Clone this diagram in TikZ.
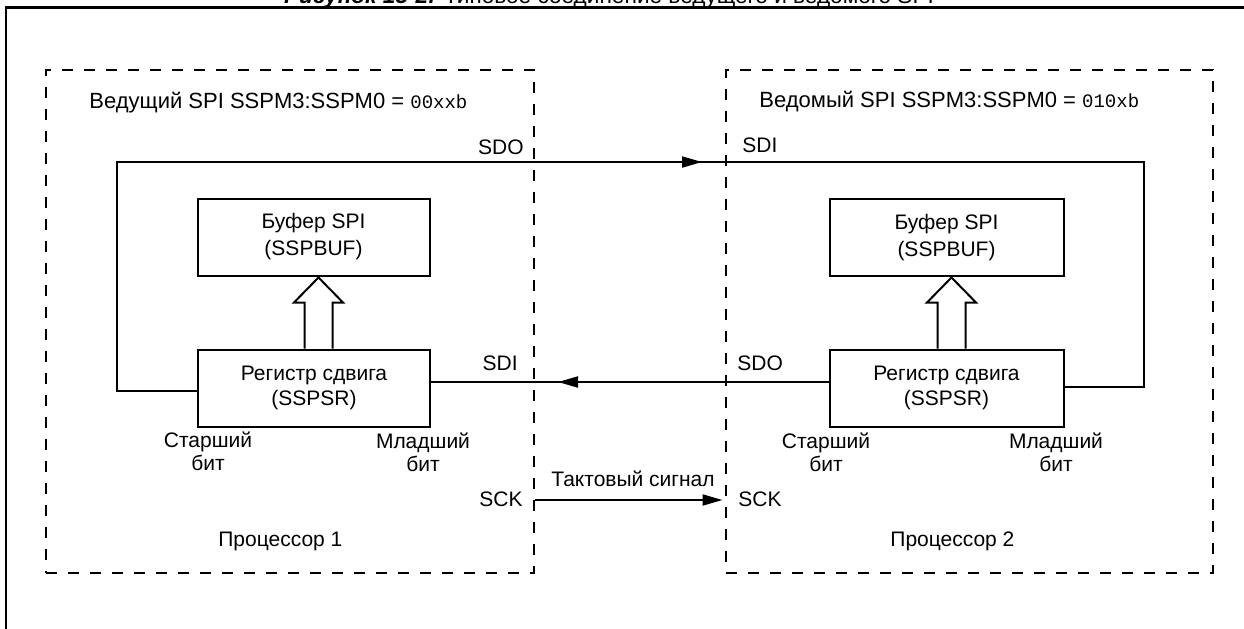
\documentclass[tikz,border=0pt]{standalone}
\usepackage{fontspec}
\setmainfont{Liberation Sans}
\setmonofont{Liberation Mono}
\usetikzlibrary{arrows.meta,calc}
\begin{document}
\begin{tikzpicture}[x=0.5pt,y=-0.5pt,
  txt/.style={font=\fontsize{10.5}{13.5}\selectfont, inner sep=0pt, align=center},
  bitlbl/.style={font=\fontsize{10.5}{11.5}\selectfont, inner sep=0pt, align=center},
  box/.style={draw, line width=1pt, minimum width=116pt, minimum height=38.5pt, inner sep=0pt, align=center},
  bufbox/.style={box, font=\fontsize{10.5}{13.5}\selectfont},
  srbox/.style={box, font=\fontsize{10.5}{12.5}\selectfont},
  procbox/.style={draw, line width=1pt, dash pattern=on 5.5pt off 5.5pt, minimum height=251.5pt, inner sep=0pt},
  wire/.style={line width=1pt},
  tip/.style={line width=1pt, -{Triangle[length=10pt,width=5.5pt]}},
  hollow/.style={line width=1pt, line join=miter},
  outer/.style={line width=1.25pt}]
\useasboundingbox (0,0) rectangle (1244,628);
% caption (cut off at the top)
\node[anchor=base, font=\fontsize{11.3}{13}\selectfont, inner sep=0pt] (cap) at (609,3.5)
  {\textbf{\textit{Рисунок 15-2:}} Типовое соединение ведущего и ведомого SPI};
% outer frame
\coordinate (fBL) at (6,640);
\coordinate (fTR) at (1260,7.5);
\draw[outer] (fBL) |- (fTR);
% processor areas
\node[procbox, minimum width=244pt] (lproc) at (290,321.5) {};
\node[procbox, minimum width=243.5pt] (rproc) at (969.5,321.5) {};
% boxes
\node[bufbox] (lbuf) at (313.5,237) {Буфер SPI\\(SSPBUF)};
\node[srbox] (lsr) at (314,388) {Регистр сдвига\\(SSPSR)};
\node[bufbox, minimum width=117pt] (rbuf) at (946.5,237.5) {Буфер SPI\\(SSPBUF)};
\node[srbox, minimum width=117pt] (rsr) at (946.5,388) {Регистр сдвига\\(SSPSR)};
% titles
\node[txt, anchor=west, font=\fontsize{11}{13}\selectfont] (ltitle) at (89,103) {Ведущий SPI SSPM3:SSPM0 = {\fontsize{9.5}{11}\selectfont\ttfamily 00xxb}};
\node[txt, anchor=west, font=\fontsize{11}{13}\selectfont] (rtitle) at (759,102) {Ведомый SPI SSPM3:SSPM0 = {\fontsize{9.5}{11}\selectfont\ttfamily 010xb}};
% pin labels
\node[txt, anchor=east] (lsdo) at (524,147) {SDO};
\node[txt, anchor=west] (rsdi) at (742,145) {SDI};
\node[txt, anchor=east] (lsdi) at (518,363) {SDI};
\node[txt, anchor=west] (rsdo) at (737,363) {SDO};
\node[txt, anchor=east] (lsck) at (523,499) {SCK};
\node[txt, anchor=west] (rsck) at (738,499) {SCK};
\node[txt] (clk) at (633,479) {Тактовый сигнал};
% bit labels
\node[bitlbl] (lmsb) at (208,451) {Старший\\бит};
\node[bitlbl] (llsb) at (423,452) {Младший\\бит};
\node[bitlbl] (rmsb) at (826,452) {Старший\\бит};
\node[bitlbl] (rlsb) at (1056,452) {Младший\\бит};
% processor names
\node[txt, anchor=west] (p1) at (218,541) {Процессор 1};
\node[txt, anchor=west] (p2) at (890,541) {Процессор 2};
% SDO -> SDI loop
\coordinate (c1) at (117,162);
\coordinate (c2) at (1144,162);
\coordinate (a1) at (702,162);
\draw[wire] ([yshift=-1.5pt]lsr.west) -| (c1) -- (c2) |- ([yshift=0.5pt]rsr.east);
\draw[tip] (c1) -- (a1);
% SDO (slave) -> SDI (master)
\coordinate (a2) at (558,382);
\draw[wire] ([yshift=3pt]rsr.west) -- ([yshift=3pt]lsr.east);
\draw[tip] ([yshift=3pt]rsr.west) -- (a2);
% clock
\coordinate (s1) at (lproc.east |- 0,500);
\coordinate (s2) at ($(rproc.west |- 0,500)+(-2.5,0)$);
\draw[tip] (s1) -- (s2);
% hollow arrows shift register -> buffer
\coordinate (ha) at ($(lsr.north)+(4.5,0)$);
\draw[hollow] ($(ha)+(-14,0)$) -- ++(0,-46) -- ++(-10.5,0) -- ++(24.5,-25) -- ++(24.5,25) -- ++(-10.5,0) -- ++(0,46);
\coordinate (hb) at ($(rsr.north)+(5,0)$);
\draw[hollow] ($(hb)+(-14,0)$) -- ++(0,-46) -- ++(-10.5,0) -- ++(24.5,-25) -- ++(24.5,25) -- ++(-10.5,0) -- ++(0,46);
\end{tikzpicture}
\end{document}
